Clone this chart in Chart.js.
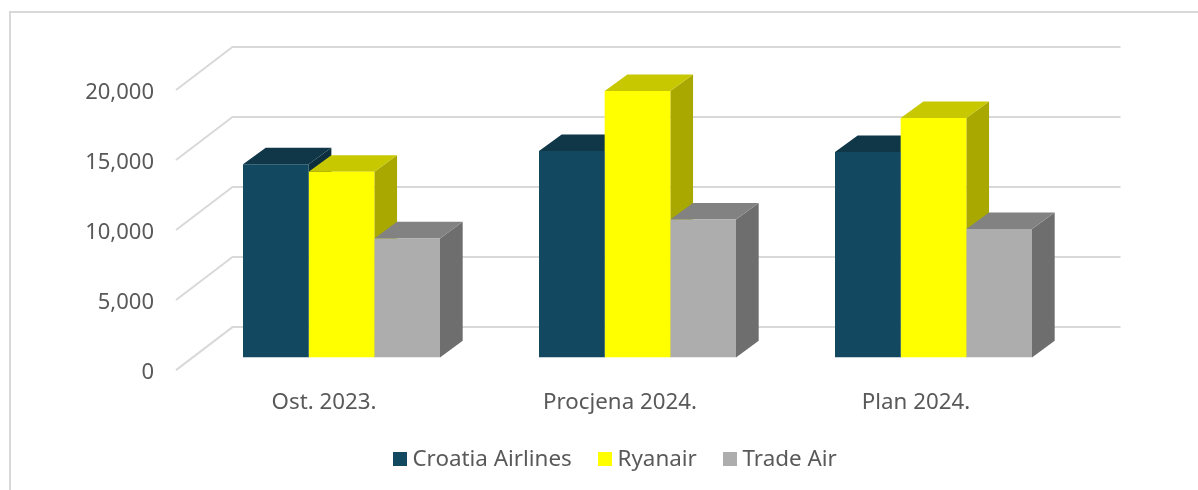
<!DOCTYPE html>
<html><head><meta charset="utf-8">
<style>html,body{margin:0;padding:0;background:#fff}#w{width:1198px;height:490px;position:relative}</style>
<script src="https://cdn.jsdelivr.net/npm/chart.js@4"></script>
</head><body><div id="w"><canvas id="c"></canvas></div>
<script>
const categories = ["Ost. 2023.", "Procjena 2024.", "Plan 2024."];
const croatiaAirlines = [13786, 14736, 14664];
const ryanair = [13257, 19021, 17093];
const tradeAir = [8498, 9843, 9164];
const seriesNames = ["Croatia Airlines", "Ryanair", "Trade Air"];
const frontColors = ["#124860", "#ffff00", "#adadad"];
const topColors = ["#0f3748", "#c8c800", "#828282"];
const sideColors = ["#0c2e3d", "#a8a800", "#6e6e6e"];
const yTickValues = [0, 5000, 10000, 15000, 20000];
const yMax = 23071;
const FONT = "'Noto Sans'";
const TEXT = "#595959";
const GRID = "#d9d9d9";
const DEPTH = {x: 56.5, y: 43};
const BAR_SHIFT = {x: 17.5, y: -12.7};
const BAR_DEPTH = {x: 22.7, y: 16.6};

function poly(ctx, pts, fill) {
  ctx.beginPath();
  pts.forEach((p, i) => i ? ctx.lineTo(p[0], p[1]) : ctx.moveTo(p[0], p[1]));
  ctx.closePath();
  ctx.fillStyle = fill;
  ctx.fill();
}
function swatch(color) {
  const c = document.createElement("canvas");
  c.width = 14; c.height = 14;
  const g = c.getContext("2d");
  g.fillStyle = color; g.fillRect(0, 0, 14, 14);
  return c;
}
const swatches = frontColors.map(swatch);

const scene3d = {
  id: "scene3d",
  afterLayout(chart) {
    const l = chart.legend;
    l.left = 0; l.right = 1236; l.top = 415.5;
  },
  beforeDraw(chart) {
    const ctx = chart.ctx;
    ctx.save();
    ctx.strokeStyle = GRID; ctx.lineWidth = 2;
    ctx.beginPath();
    ctx.moveTo(1198, 12); ctx.lineTo(10, 12); ctx.lineTo(10, 490);
    ctx.stroke();
    ctx.restore();
  },
  beforeDatasetsDraw(chart) {
    const ctx = chart.ctx, sy = chart.scales.y, a = chart.chartArea;
    ctx.save();
    ctx.strokeStyle = GRID; ctx.lineWidth = 2;
    sy.ticks.forEach(t => {
      const y = sy.getPixelForValue(t.value);
      ctx.beginPath();
      ctx.moveTo(a.left, y);
      ctx.lineTo(a.left + DEPTH.x, y - DEPTH.y);
      ctx.lineTo(a.right + DEPTH.x, y - DEPTH.y);
      ctx.stroke();
    });
    ctx.restore();
    ctx.save();
    ctx.translate(BAR_SHIFT.x, BAR_SHIFT.y);
    const dx = BAR_DEPTH.x, dy = BAR_DEPTH.y;
    categories.forEach((_, i) => {
      chart.data.datasets.forEach((ds, d) => {
        const e = chart.getDatasetMeta(d).data[i];
        const L = e.x - e.width / 2, R = e.x + e.width / 2, T = e.y, B = e.base;
        poly(ctx, [[R, T], [R + dx, T - dy], [R + dx, B - dy], [R, B]], sideColors[d]);
        poly(ctx, [[L, T], [L + dx, T - dy], [R + dx, T - dy], [R, T]], topColors[d]);
      });
    });
    // translation stays on for the library-drawn front faces
  },
  afterDatasetsDraw(chart) { chart.ctx.restore(); }
};

new Chart(document.getElementById("c"), {
  type: "bar",
  data: {
    labels: categories,
    datasets: [croatiaAirlines, ryanair, tradeAir].map((v, i) => ({
      label: seriesNames[i], data: v, backgroundColor: frontColors[i],
      borderWidth: 0, categoryPercentage: 0.6655, barPercentage: 1
    }))
  },
  plugins: [scene3d],
  options: {
    responsive: true, maintainAspectRatio: false, animation: false, locale: "en-US",
    layout: {padding: {top: 47, right: 134, left: 0, bottom: 0}},
    plugins: {
      tooltip: {enabled: false},
      legend: {
        position: "bottom",
        labels: {
          color: TEXT, font: {family: FONT, size: 22.4},
          usePointStyle: true, pointStyleWidth: 2, boxHeight: 14, padding: 32.5,
          generateLabels(chart) {
            return Chart.defaults.plugins.legend.labels.generateLabels(chart)
              .map((it, i) => Object.assign(it, {pointStyle: swatches[i]}));
          }
        }
      }
    },
    scales: {
      x: {
        grid: {display: false, drawTicks: false}, border: {display: false},
        ticks: {color: TEXT, font: {family: FONT, size: 22.3}, padding: 19.5, maxRotation: 0},
        afterFit(s) { s.height = 55; }
      },
      y: {
        min: 0, max: yMax,
        grid: {display: false, drawTicks: false}, border: {display: false},
        ticks: {color: TEXT, font: {family: FONT, size: 22}, padding: 22, labelOffset: 3},
        afterBuildTicks(s) { s.ticks = yTickValues.map(v => ({value: v})); },
        afterFit(s) { s.width = 176; }
      }
    }
  }
});
</script></body></html>
